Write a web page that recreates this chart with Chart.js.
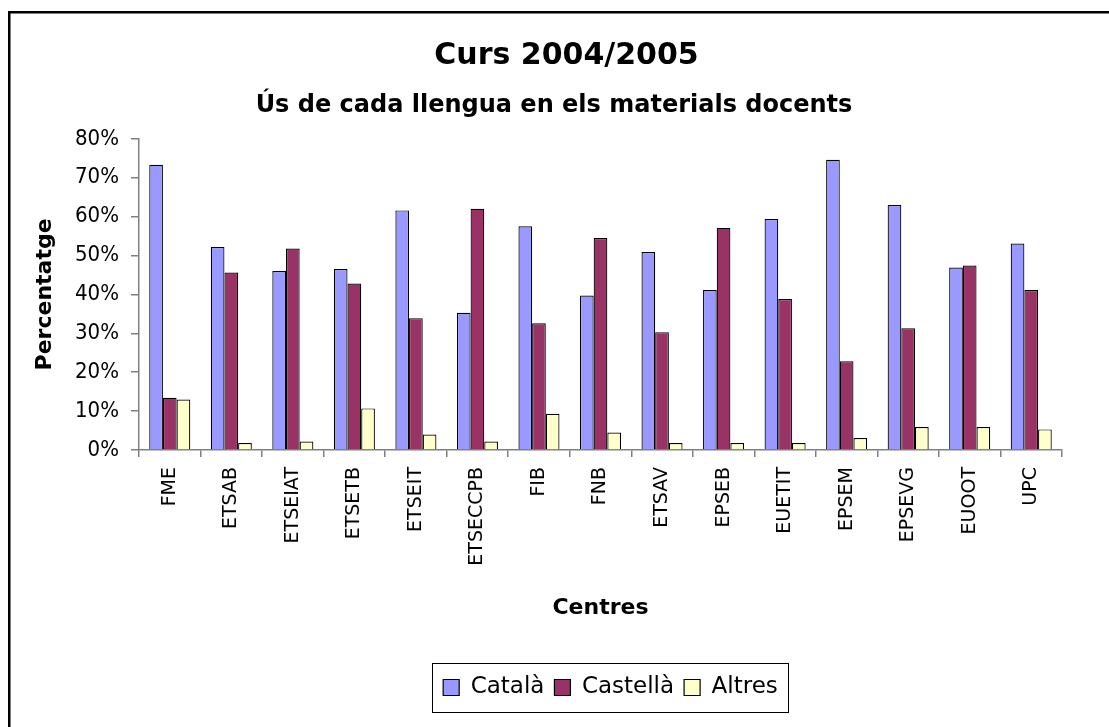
<!DOCTYPE html>
<html>
<head>
<meta charset="utf-8">
<script src="https://cdn.jsdelivr.net/npm/chart.js@4/dist/chart.umd.min.js"></script>
<style>
    body { margin: 0; background: #fff; overflow: hidden; }
</style>
</head>
<body>
<canvas id="myChart" width="1109" height="727"></canvas>
<script>
const centres = ['FME', 'ETSAB', 'ETSEIAT', 'ETSETB', 'ETSEIT', 'ETSECCPB', 'FIB', 'FNB', 'ETSAV', 'EPSEB', 'EUETIT', 'EPSEM', 'EPSEVG', 'EUOOT', 'UPC'];
const catala = [73.3, 52.2, 46.0, 46.5, 61.6, 35.3, 57.5, 39.7, 50.9, 41.1, 59.4, 74.6, 63.0, 46.9, 53.1];
const castella = [13.4, 45.6, 51.8, 42.8, 33.9, 62.0, 32.6, 54.5, 30.3, 57.1, 38.8, 22.8, 31.3, 47.4, 41.1];
const altres = [13.0, 1.8, 2.2, 10.7, 4.0, 2.2, 9.3, 4.5, 1.8, 1.8, 1.8, 3.1, 5.9, 5.9, 5.3];

const narrow = "'DejaVu Sans Condensed', 'Liberation Sans Narrow', 'DejaVu Sans', sans-serif";
Chart.defaults.font.family = "'DejaVu Sans', sans-serif";
Chart.defaults.color = '#000';

// outer frame (only left and top edges show in the picture)
const chartFrame = {
    id: 'chartFrame',
    beforeDraw(chart) {
        const c = chart.ctx;
        c.save();
        c.fillStyle = '#fff';
        c.fillRect(0, 0, chart.width, chart.height);
        c.fillStyle = '#000';
        c.fillRect(8, 11, chart.width - 8, 2.5);
        c.fillRect(8, 11, 2.5, chart.height - 11);
        c.restore();
    }
};

// box round the legend, like the excel one
const legendFrame = {
    id: 'legendFrame',
    afterLayout(chart) {
        // legend sits a little right of the plot centre
        chart.legend.left += 20;
    },
    afterDraw(chart) {
        const boxes = chart.legend.legendHitBoxes;
        if (!boxes || !boxes.length) return;
        let left = Infinity, right = -Infinity, top = Infinity, bottom = -Infinity;
        boxes.forEach(b => {
            left = Math.min(left, b.left);
            right = Math.max(right, b.left + b.width);
            top = Math.min(top, b.top);
            bottom = Math.max(bottom, b.top + b.height);
        });
        const ctx = chart.ctx;
        ctx.save();
        ctx.strokeStyle = '#000';
        ctx.lineWidth = 1;
        ctx.strokeRect(Math.round(left - 11) + 0.5, Math.round(top - 13) + 0.5, Math.round(right - left + 21), Math.round(bottom - top + 26));
        ctx.restore();
    }
};

const ctx = document.getElementById('myChart').getContext('2d');
const myChart = new Chart(ctx, {
    type: 'bar',
    data: {
        labels: centres,
        datasets: [{
            label: 'Català',
            data: catala,
            backgroundColor: '#9999FF',
            borderColor: '#000',
            borderWidth: 1.2
        }, {
            label: 'Castellà',
            data: castella,
            backgroundColor: '#993366',
            borderColor: '#000',
            borderWidth: 1.2
        }, {
            label: 'Altres',
            data: altres,
            backgroundColor: '#FFFFCC',
            borderColor: '#000',
            borderWidth: 1.2
        }]
    },
    options: {
        responsive: false,
        animation: false,
        datasets: {
            bar: {
                categoryPercentage: 0.667,
                barPercentage: 1
            }
        },
        layout: {
            padding: { left: 24, right: 0, top: 38, bottom: 18 }
        },
        plugins: {
            title: {
                display: true,
                text: 'Curs 2004/2005',
                font: { size: 30, weight: 'bold' },
                padding: { top: 0, bottom: 0 }
            },
            subtitle: {
                display: true,
                text: 'Ús de cada llengua en els materials docents   ',
                color: '#000',
                font: { size: 24, weight: 'bold' },
                padding: { top: 17, bottom: 19 }
            },
            legend: {
                position: 'bottom',
                fullSize: false,
                labels: {
                    boxWidth: 16,
                    boxHeight: 16,
                    padding: 10,
                    font: { size: 23 }
                }
            },
            tooltip: { enabled: false }
        },
        scales: {
            x: {
                grid: { display: true, drawOnChartArea: false, offset: true, color: '#808080', lineWidth: 1.5, tickLength: 7 },
                border: { color: '#808080', width: 1.5 },
                ticks: { minRotation: 90, maxRotation: 90, padding: 10, font: { size: 19 } },
                title: {
                    display: true,
                    text: 'Centres',
                    font: { size: 22, weight: 'bold' },
                    padding: { top: 0, bottom: 45 }
                },
                afterFit: function(scale) { scale.height = 216; }
            },
            y: {
                min: 0,
                max: 80,
                grid: { drawOnChartArea: false, color: '#808080', lineWidth: 1.5, tickLength: 8 },
                border: { color: '#808080', width: 1.5 },
                ticks: {
                    stepSize: 10,
                    padding: 12,
                    font: { size: 22, family: narrow },
                    callback: function(v) { return v + '%'; }
                },
                title: {
                    display: true,
                    text: 'Percentatge',
                    font: { size: 22, weight: 'bold' },
                    padding: { top: 8, bottom: 0 }
                },
                afterFit: function(scale) { scale.width = 115; }
            },
            y2: {
                position: 'right',
                grid: { display: false },
                border: { display: false },
                ticks: { display: false },
                afterFit: function(scale) { scale.width = 47; }
            }
        }
    },
    plugins: [chartFrame, legendFrame]
});
</script>
</body>
</html>
